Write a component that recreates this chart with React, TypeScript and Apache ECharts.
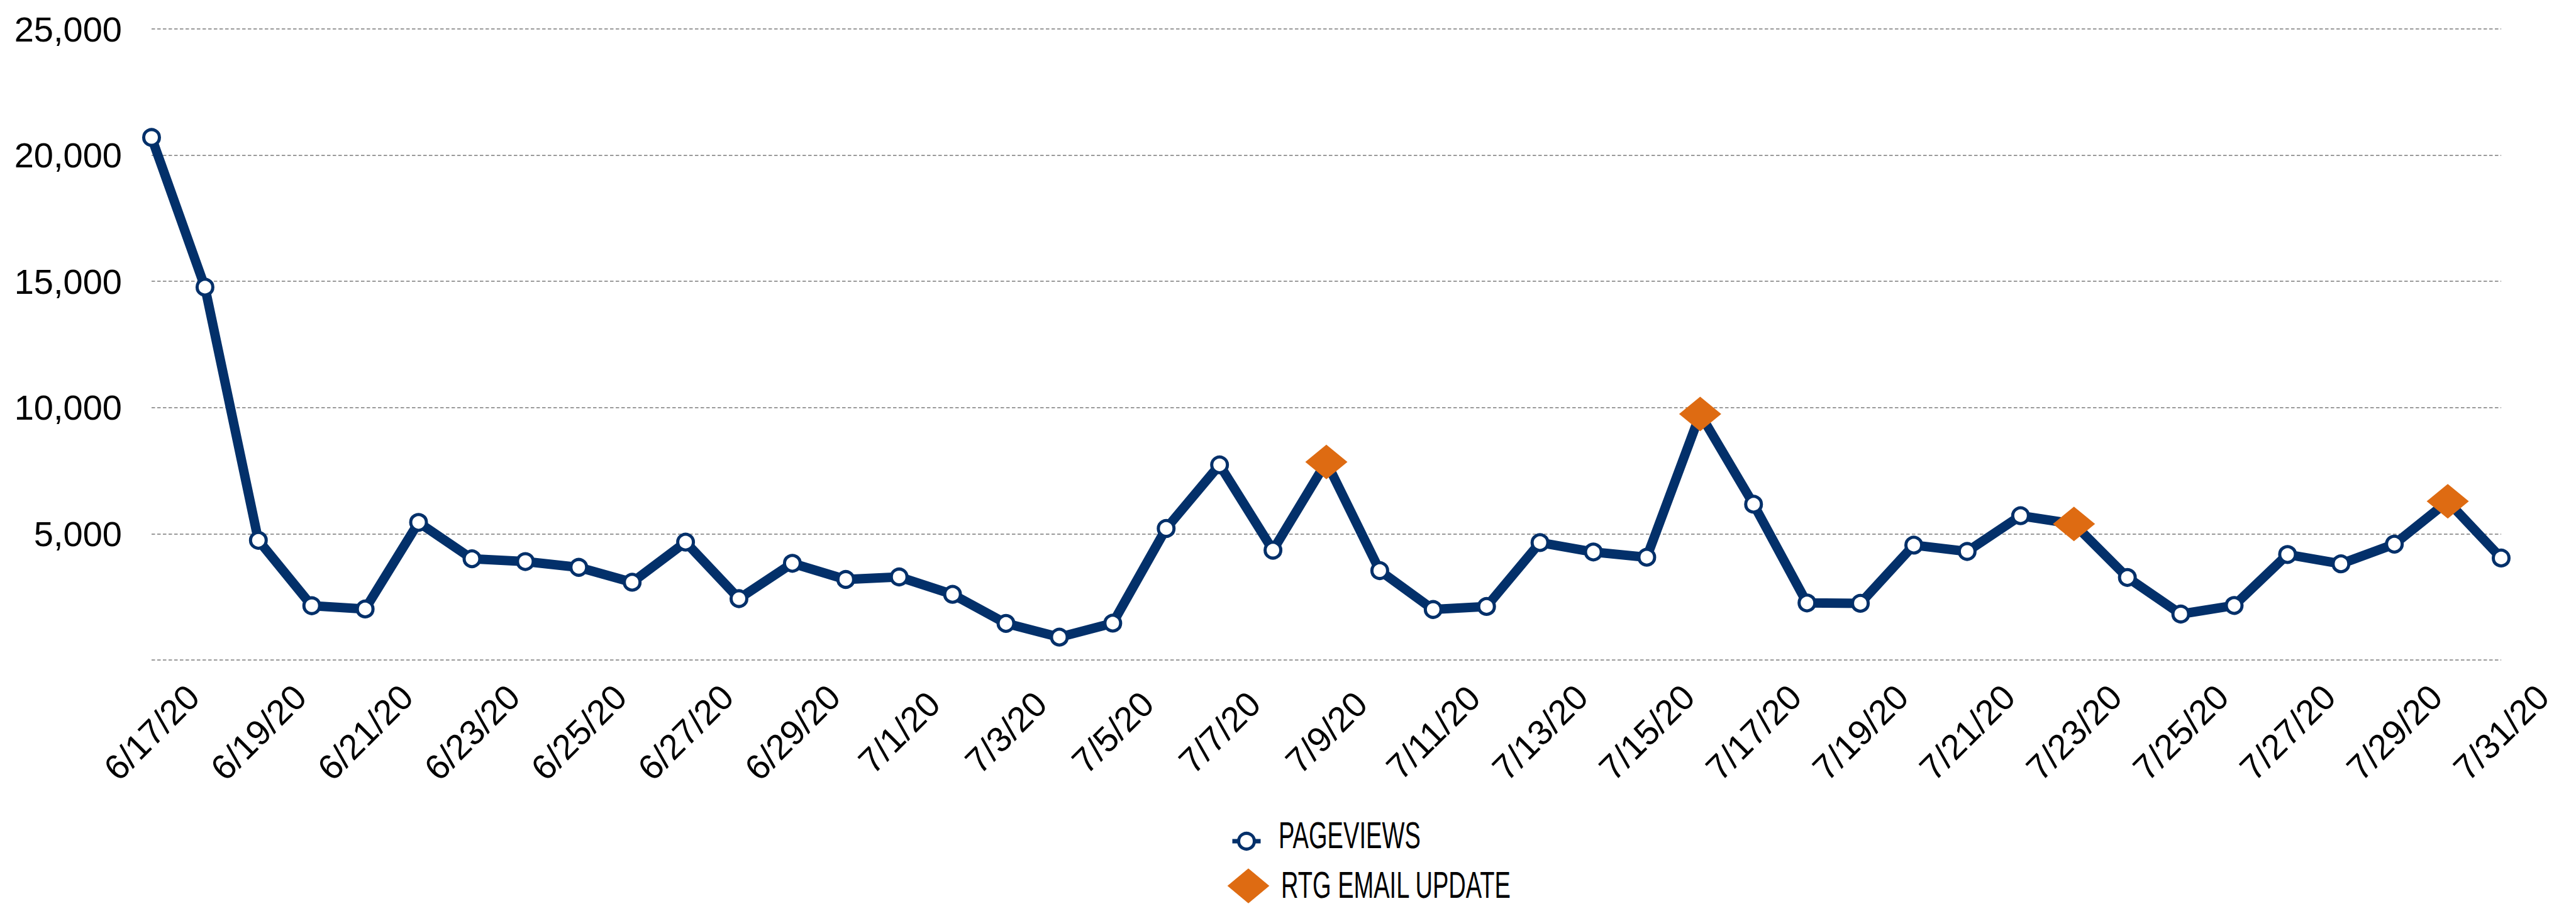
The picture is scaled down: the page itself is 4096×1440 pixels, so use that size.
import React, { useEffect, useRef } from 'react';
import * as echarts from 'echarts';

const categories = [
  '6/17/20', '6/18/20', '6/19/20', '6/20/20', '6/21/20', '6/22/20', '6/23/20', '6/24/20', '6/25/20',
  '6/26/20', '6/27/20', '6/28/20', '6/29/20', '6/30/20', '7/1/20', '7/2/20', '7/3/20', '7/4/20',
  '7/5/20', '7/6/20', '7/7/20', '7/8/20', '7/9/20', '7/10/20', '7/11/20', '7/12/20', '7/13/20',
  '7/14/20', '7/15/20', '7/16/20', '7/17/20', '7/18/20', '7/19/20', '7/20/20', '7/21/20', '7/22/20',
  '7/23/20', '7/24/20', '7/25/20', '7/26/20', '7/27/20', '7/28/20', '7/29/20', '7/30/20', '7/31/20',
];

const pageviews = [
  20700, 14770, 4740, 2150, 2020, 5450, 4010, 3900, 3670,
  3080, 4670, 2430, 3830, 3190, 3290, 2600, 1450, 905,
  1460, 5210, 7730, 4350, 7845, 3540, 2000, 2120, 4650,
  4280, 4070, 9745, 6170, 2260, 2245, 4550, 4300, 5715,
  5390, 3270, 1820, 2160, 4180, 3810, 4590, 6285, 4040,
];

const emailDates = ['7/9/20', '7/16/20', '7/23/20', '7/30/20'];
const emailValues = [7845, 9745, 5390, 6285];

const seriesNames = ['PAGEVIEWS', 'RTG EMAIL UPDATE'];

const NAVY = '#03306A';
const ORANGE = '#DE6B12';
const FONT = '"Liberation Sans", Arial, sans-serif';

export default function App() {
  const ref = useRef<HTMLDivElement>(null);

  useEffect(() => {
    const chart = echarts.init(ref.current as HTMLDivElement, null, { renderer: 'svg' });
    chart.setOption({
      animation: false,
      backgroundColor: '#ffffff',
      textStyle: { fontFamily: FONT },
      grid: { left: 241, right: 119, top: 46, bottom: 391, containLabel: false },
      xAxis: {
        type: 'category',
        data: categories,
        boundaryGap: false,
        axisLine: { show: false },
        axisTick: { show: false },
        splitLine: { show: false },
        axisLabel: {
          interval: 1,
          rotate: 45,
          align: 'center',
          verticalAlign: 'middle',
          margin: 115,
          fontSize: 56,
          color: '#000000',
          fontFamily: FONT,
        },
      },
      yAxis: {
        type: 'value',
        min: 0,
        max: 25000,
        interval: 5000,
        axisLine: { show: false },
        axisTick: { show: false },
        axisLabel: {
          fontSize: 56,
          margin: 47,
          color: '#000000',
          fontFamily: FONT,
          padding: [0, 0, 13, 0],
          formatter: (v: number) => (v === 0 ? '' : v.toLocaleString('en-US')),
        },
        splitLine: {
          show: true,
          lineStyle: { type: [5.5, 3.5], color: '#9a9a9a', width: 2.2 },
        },
      },
      series: [
        {
          type: 'line',
          name: seriesNames[0],
          data: pageviews,
          symbol: 'circle',
          symbolSize: 25,
          showAllSymbol: true,
          lineStyle: { color: NAVY, width: 15, join: 'round' },
          itemStyle: { color: '#ffffff', borderColor: NAVY, borderWidth: 5 },
          z: 2,
        },
        {
          type: 'scatter',
          name: seriesNames[1],
          data: emailDates.map((d, i) => [d, emailValues[i]]),
          symbol: 'diamond',
          symbolSize: [67, 55],
          itemStyle: { color: ORANGE, opacity: 1 },
          z: 3,
        },
      ],
      graphic: [
        {
          type: 'line',
          shape: { x1: 1959.5, y1: 1337, x2: 2004.5, y2: 1337 },
          style: { stroke: NAVY, lineWidth: 7 },
        },
        {
          type: 'circle',
          shape: { cx: 1982, cy: 1337, r: 12.5 },
          style: { fill: '#ffffff', stroke: NAVY, lineWidth: 5 },
        },
        {
          type: 'text',
          x: 2033,
          y: 1328,
          scaleX: 0.635,
          style: {
            text: seriesNames[0],
            fontSize: 60,
            fontFamily: FONT,
            fill: '#000000',
            textAlign: 'left',
            textVerticalAlign: 'middle',
          },
        },
        {
          type: 'polygon',
          shape: {
            points: [
              [1985 - 33.3, 1408],
              [1985, 1408 - 27.7],
              [1985 + 33.3, 1408],
              [1985, 1408 + 27.7],
            ],
          },
          style: { fill: ORANGE },
        },
        {
          type: 'text',
          x: 2037,
          y: 1407,
          scaleX: 0.645,
          style: {
            text: seriesNames[1],
            fontSize: 59,
            fontFamily: FONT,
            fill: '#000000',
            textAlign: 'left',
            textVerticalAlign: 'middle',
          },
        },
      ],
    });
    return () => chart.dispose();
  }, []);

  return (
    <div
      ref={ref}
      style={{ position: 'fixed', left: 0, top: 0, width: 4096, height: 1440, background: '#ffffff' }}
    />
  );
}
